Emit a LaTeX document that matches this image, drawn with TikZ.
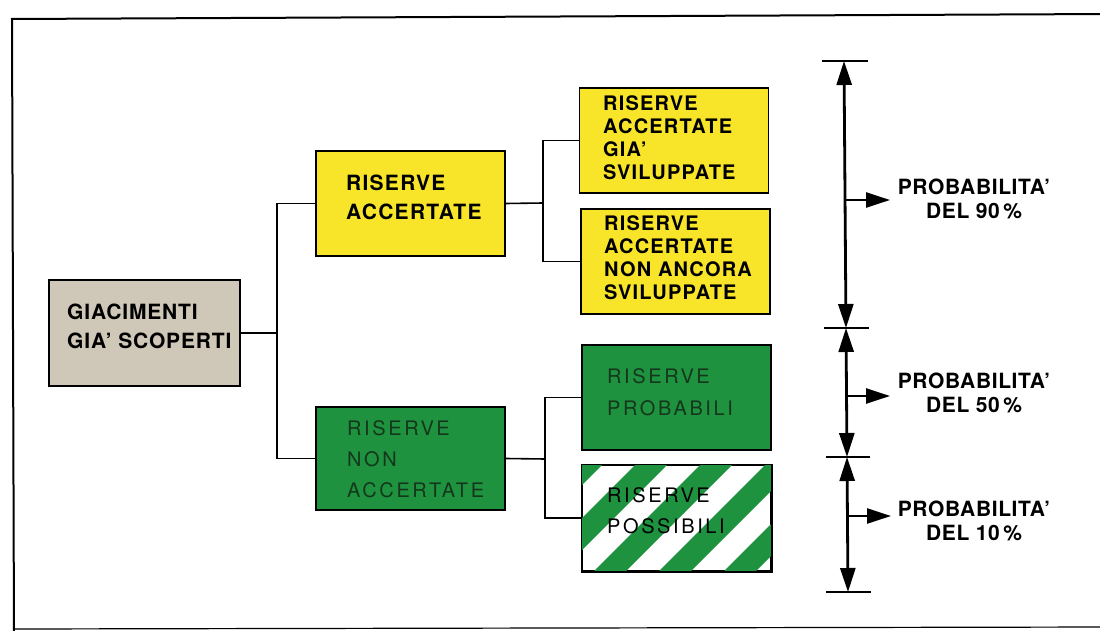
\documentclass[tikz,border=0pt]{standalone}
\usepackage{fontspec}
\setmainfont{TeX Gyre Heros}
\newfontfamily\spA[LetterSpace=4]{TeX Gyre Heros}
\newfontfamily\spB[LetterSpace=6]{TeX Gyre Heros}
\newfontfamily\spC[LetterSpace=3]{TeX Gyre Heros}
\newfontfamily\spG[LetterSpace=13]{TeX Gyre Heros}
\usetikzlibrary{arrows.meta}
\definecolor{boxyellow}{RGB}{248,229,42}
\definecolor{boxgreen}{RGB}{31,146,64}
\definecolor{boxgray}{RGB}{207,200,184}
\definecolor{greentext}{RGB}{20,55,28}
\begin{document}
\begin{tikzpicture}[x=1pt,y=-1pt,
  box/.style={draw=black, line width=1.5pt, minimum width=189pt, minimum height=105pt, inner sep=0pt},
  conn/.style={draw=black, line width=1.6pt},
  lbl/.style={align=left, anchor=west, inner sep=0pt, font=\fontsize{21}{29}\spA\bfseries},
  albl/.style={align=left, anchor=west, inner sep=0pt, font=\fontsize{21}{29}\spB\bfseries},
  ylbl/.style={align=left, anchor=west, inner sep=0pt, font=\fontsize{20}{23}\spB\bfseries},
  glbl/.style={align=left, anchor=west, inner sep=0pt, text=greentext, font=\fontsize{20}{31}\spG},
  plbl/.style={align=center, inner sep=0pt, font=\fontsize{21}{24}\spC\bfseries},
  tick/.style={draw=black, line width=1.4pt},
  varrow/.style={draw=black, line width=2.8pt, {Triangle[length=24pt,width=15pt]}-{Triangle[length=24pt,width=15pt]}},
  harrow/.style={draw=black, line width=2.6pt, -{Triangle[length=24pt,width=15pt]}}
]
\useasboundingbox (0,0) rectangle (1100,631);
\fill[white] (0,0) rectangle (1100,631);
% frame
\draw[line width=2pt] (1110,14) -- (12,19) -- (14,640);
\draw[line width=1.2pt] (14,629) -- (1110,627);

% boxes
\node[box, fill=boxgray, minimum width=191pt, minimum height=106pt] (gia) at (144.5,333) {};
\node[box, fill=boxyellow] (acc) at (410.5,203.5) {};
\node[box, fill=boxgreen, minimum height=103pt] (nacc) at (410.5,458.5) {};
\node[box, fill=boxyellow] (y1) at (674,140.5) {};
\node[box, fill=boxyellow] (y2) at (675.5,261.5) {};
\node[box, fill=boxgreen] (prob) at (676.5,397.5) {};
\node[box, fill=white, minimum height=106pt] (poss) at (676.5,518) {};
\begin{scope}
  \clip (poss.south west) rectangle (poss.north east);
  \foreach \s in {505,570,635,700,765,830,895}
    \fill[boxgreen] (\s,465) -- (\s+32,465) -- (\s-74,571) -- (\s-106,571) -- cycle;
\end{scope}
\draw[line width=1.5pt] (poss.south west) rectangle (poss.north east);

% texts
\node[lbl] (tgia) at (67,326) {GIACIMENTI\\GIA’ SCOPERTI};
\node[albl] (tacc) at (346,197.5) {RISERVE\\ACCERTATE};
\node[glbl] (tnacc) at (347,459) {RISERVE\\NON\\ACCERTATE};
\node[ylbl] (ty1) at (603,138) {RISERVE\\ACCERTATE\\GIA’\\SVILUPPATE};
\node[ylbl] (ty2) at (604,258) {RISERVE\\ACCERTATE\\NON ANCORA\\SVILUPPATE};
\node[glbl, font=\fontsize{20}{32}\spG] (tprob) at (607,392) {RISERVE\\PROBABILI};
\node[glbl, text=black] (tposs) at (607,510.5) {RISERVE\\POSSIBILI};

% connectors
\coordinate (j1) at (277,333);
\coordinate (j2) at (543,203);
\coordinate (j3) at (545,459);
\draw[conn] (gia.east) -- (j1);
\draw[conn] (acc.west) -| (j1) |- (nacc.west);
\draw[conn] (acc.east) -- (j2);
\draw[conn] (y1.west) -| (j2) |- (y2.west);
\draw[conn] (nacc.east) -- (j3);
\draw[conn] (prob.west) -| (j3) |- (poss.west);

% probability scale
\coordinate (t1) at (844,61);
\coordinate (t2) at (846,328);
\coordinate (t3) at (847,457);
\coordinate (t4) at (848,592);
\draw[tick] ([xshift=-22pt]t1) -- ([xshift=24pt]t1);
\draw[tick] ([xshift=-22pt]t2) -- ([xshift=23pt]t2);
\draw[tick] ([xshift=-21pt]t3) -- ([xshift=23pt]t3);
\draw[tick] ([xshift=-22pt]t4) -- ([xshift=23pt]t4);
\draw[varrow] (t1) -- (t2);
\draw[varrow] (t2) -- (t3);
\draw[varrow] (t3) -- (t4);

\node[plbl] (p90) at (974,199) {PROBABILITA’\\DEL 90\,\%};
\node[plbl] (p50) at (974,393) {PROBABILITA’\\DEL 50\,\%};
\node[plbl] (p10) at (974,521) {PROBABILITA’\\DEL 10\,\%};
\coordinate (a1) at (845,200);
\coordinate (a2) at (847,396);
\coordinate (a3) at (848,516);
\draw[harrow] (a1) -- (890,200);
\draw[harrow] (a2) -- (890,396);
\draw[harrow] (a3) -- (891,516);
\end{tikzpicture}
\end{document}
